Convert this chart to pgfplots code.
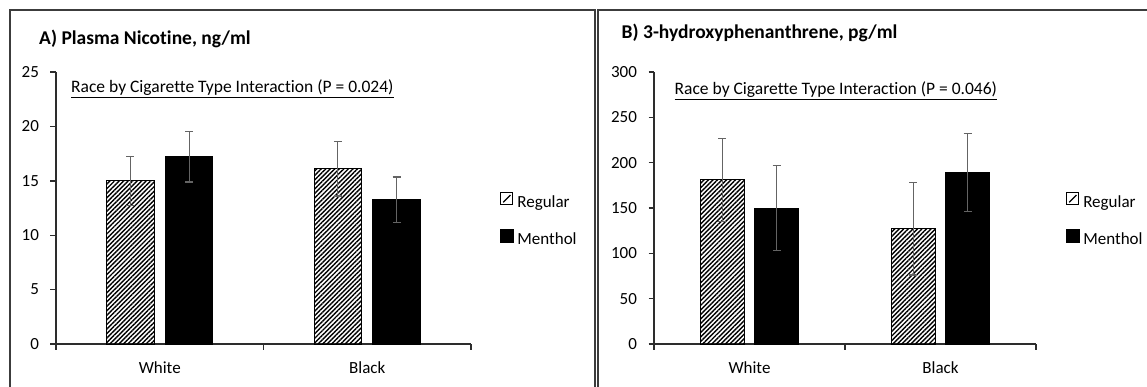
\documentclass[border=0pt]{standalone}
\usepackage{pgfplots}
\pgfplotsset{compat=1.18}
\usepackage{fontspec}
\setmainfont{Carlito}[Ligatures={NoCommon}]
\usetikzlibrary{patterns.meta}
\definecolor{axisgray}{RGB}{45,45,45}
\definecolor{errgray}{RGB}{100,100,100}
\definecolor{framegray}{RGB}{60,60,60}

\newcommand{\fs}{\fontsize{17.5}{21}\selectfont}
\newcommand{\ft}{\fontsize{17}{20}\selectfont}

\pgfplotsset{
  panel/.style={
    scale only axis, ymin=0, xmin=0, xmax=2, enlargelimits=false,
    axis x line=bottom, axis y line=left,
    axis line style={-, axisgray, line width=1.4pt},
    ybar, bar width=0.229,
    xtick={0,1,2}, xticklabels={},
    extra x ticks={0.5,1.5}, extra x tick labels={White,Black},
    extra x tick style={major tick length=0pt, xticklabel style={yshift=-14pt}},
    tick align=outside, major tick length=5.5pt,
    tick style={axisgray, line width=1.4pt},
    tick label style={font=\ft, text=black},
    yticklabel style={xshift=-8pt},
    /pgf/number format/assume math mode=true,
    legend cell align=left,
    legend style={draw=none, fill=none, inner sep=0pt, anchor=west, font=\ft,
      row sep=17pt, nodes={inner xsep=3.5pt, inner ysep=0pt, text height=12pt, text depth=4pt}},
  },
  reg/.style={draw=black, line width=1pt,
    pattern={Lines[angle=45,distance=3.2pt,line width=1.4pt]}, pattern color=black,
    bar shift=-0.142,
    legend image code/.code={
      \draw[black, line width=1pt, fill=white] (0pt,-1pt) rectangle (12.2pt,11.2pt);
      \draw[black, line width=1.2pt] (2.5pt,1.5pt) -- (9.7pt,8.7pt);},
    error bars/.cd, y dir=both, y explicit,
      error bar style={errgray, line width=1.3pt},
      error mark options={errgray, line width=1.3pt, mark size=4pt, rotate=90}},
  men/.style={draw=black, line width=1pt, fill=black,
    bar shift=0.142,
    legend image code/.code={
      \fill[black] (0pt,-1.4pt) rectangle (12.6pt,11.6pt);},
    error bars/.cd, y dir=both, y explicit,
      error bar style={errgray, line width=1.3pt},
      error mark options={errgray, line width=1.3pt, mark size=4pt, rotate=90}},
}

\begin{document}
\begin{tikzpicture}
\useasboundingbox (0,0) rectangle (1147pt,386pt);
% panel frames
\draw[framegray, line width=1.2pt] (10pt,-2pt) -- (10pt,376pt) -- (595pt,376pt) -- (595pt,-2pt);
\draw[framegray, line width=1.2pt] (598pt,-2pt) -- (598pt,376pt) -- (1149pt,376pt);

% titles
\node[anchor=west, inner sep=0pt, font=\fontsize{19.5}{23}\selectfont\bfseries] at (39pt,347pt) {A) Plasma Nicotine, ng/ml};
\node[anchor=west, inner sep=0pt, font=\fontsize{19.5}{23}\selectfont\bfseries] at (621.5pt,353pt) {B) 3-hydroxyphenanthrene, pg/ml};

% annotations
\node[anchor=west, inner sep=0pt, font=\fs] at (71pt,297pt) {\underline{Race by Cigarette Type Interaction (P = 0.024)}};
\node[anchor=west, inner sep=0pt, font=\fs] at (674.5pt,295pt) {\underline{Race by Cigarette Type Interaction (P = 0.046)}};

\begin{axis}[panel, at={(56pt,42pt)}, anchor=south west,
  width=415pt, height=272pt, ymax=25, ytick={0,5,10,15,20,25},
  legend style={at={(1.07,0.454)}}]
\addplot[reg] coordinates {(0.5,15.0) +- (0,2.25) (1.5,16.1) +- (0,2.5)};
\addlegendentry{Regular}
\addplot[men] coordinates {(0.5,17.2) +- (0,2.3) (1.5,13.25) +- (0,2.1)};
\addlegendentry{Menthol}
\end{axis}

\begin{axis}[panel, at={(654pt,42pt)}, anchor=south west,
  width=382pt, height=272pt, ymax=300, ytick={0,50,100,150,200,250,300},
  legend style={at={(1.0785,0.454)}}]
\addplot[reg] coordinates {(0.5,181) +- (0,46) (1.5,127) +- (0,51)};
\addlegendentry{Regular}
\addplot[men] coordinates {(0.5,150) +- (0,47) (1.5,189) +- (0,43)};
\addlegendentry{Menthol}
\end{axis}
\end{tikzpicture}
\end{document}
